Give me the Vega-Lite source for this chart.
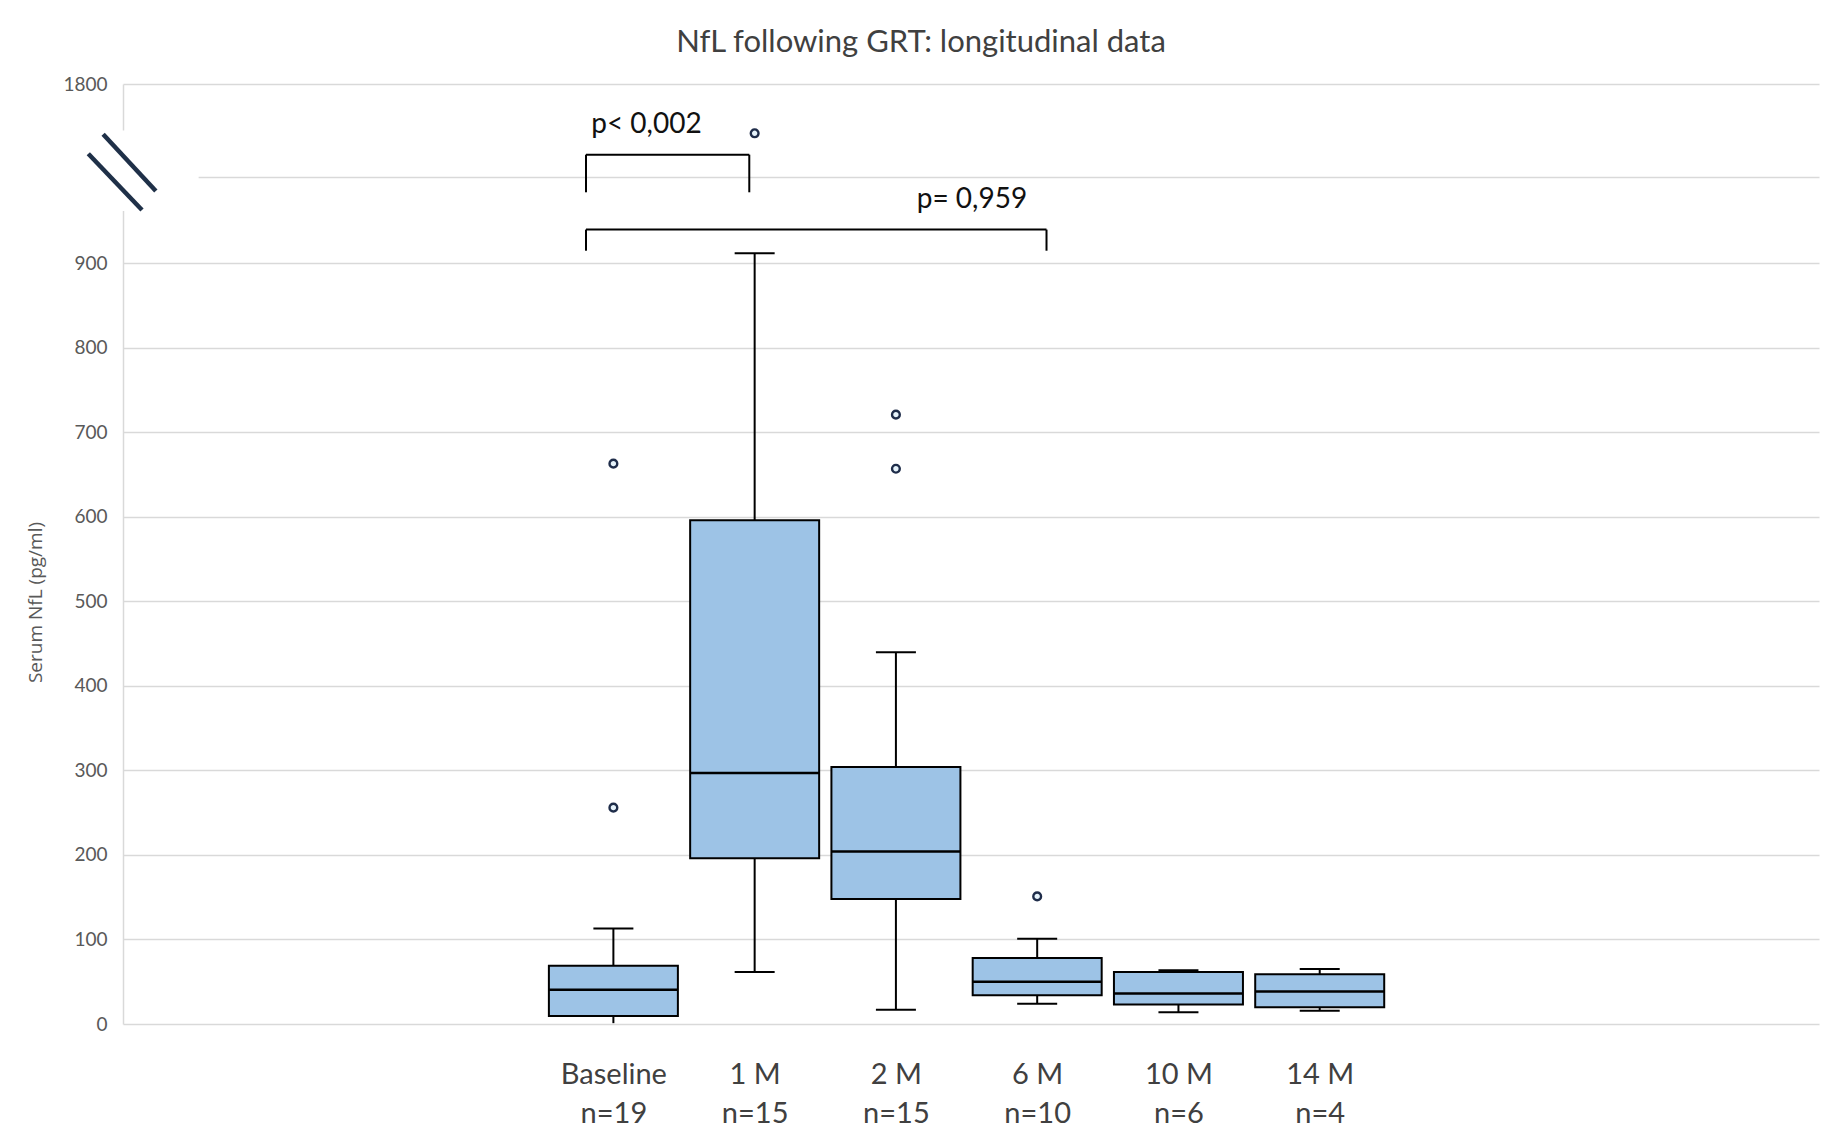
{
  "$schema": "https://vega.github.io/schema/vega-lite/v6.json",
  "width": 1696,
  "height": 940,
  "autosize": {"type": "none"},
  "padding": {"left": 123, "top": 84, "right": 24, "bottom": 106},
  "background": "white",
  "title": {
    "text": "NfL following GRT: longitudinal data",
    "font": "Lato",
    "fontSize": 31,
    "fontWeight": "normal",
    "color": "#404040",
    "anchor": "middle",
    "frame": "group",
    "dx": -50,
    "baseline": "alphabetic",
    "offset": -8
  },
  "config": {"view": {"stroke": null}},
  "datasets": {
    "boxes": [
      {"t": 1, "group": "Baseline", "n": 19, "min": 1, "lo": null, "q1": 9.5, "median": 40.5, "q3": 69, "max": 113},
      {"t": 2, "group": "1 M", "n": 15, "min": 61.5, "lo": 61.5, "q1": 196, "median": 297, "q3": 596, "max": 912},
      {"t": 3, "group": "2 M", "n": 15, "min": 17, "lo": 17, "q1": 148, "median": 204, "q3": 304, "max": 440},
      {"t": 4, "group": "6 M", "n": 10, "min": 24, "lo": 24, "q1": 34, "median": 50, "q3": 78, "max": 101},
      {"t": 5, "group": "10 M", "n": 6, "min": 14, "lo": 14, "q1": 23, "median": 36, "q3": 61.5, "max": 63.5},
      {"t": 6, "group": "14 M", "n": 4, "min": 15.7, "lo": 15.7, "q1": 19.7, "median": 38.6, "q3": 59, "max": 65}
    ],
    "outliers": [
      {"t": 1, "group": "Baseline", "value": 256},
      {"t": 1, "group": "Baseline", "value": 663},
      {"t": 2, "group": "1 M", "value": 1747},
      {"t": 3, "group": "2 M", "value": 721},
      {"t": 3, "group": "2 M", "value": 657},
      {"t": 4, "group": "6 M", "value": 151}
    ],
    "one": [{}]
  },
  "layer": [
    {
      "data": {"name": "boxes"},
      "mark": {"type": "rule", "color": "black", "strokeWidth": 2},
      "encoding": {
        "x": {
          "field": "t",
          "type": "quantitative",
          "scale": {"domain": [-2.436, 9.499], "nice": false, "zero": false},
          "axis": {
            "values": [1, 2, 3, 4, 5, 6],
            "title": null,
            "grid": false,
            "domain": false,
            "ticks": false,
            "labelFont": "Lato",
            "labelFontSize": 29,
            "labelColor": "#404040",
            "labelPadding": 36,
            "labelLineHeight": 39,
            "labelOverlap": false,
            "labelBound": false,
            "labelFlush": false,
            "labelExpr": "[['Baseline','n=19'],['1 M','n=15'],['2 M','n=15'],['6 M','n=10'],['10 M','n=6'],['14 M','n=4']][datum.value-1]"
          }
        },
        "y": {
          "field": "min",
          "type": "quantitative",
          "scale": {"domain": [0, 962, 1700, 1800], "range": [940, 127, 93, 0], "nice": false, "zero": false},
          "axis": {
            "values": [0, 100, 200, 300, 400, 500, 600, 700, 800, 900, 1700, 1800],
            "format": "d",
            "labelExpr": "datum.value == 1700 ? '' : datum.label",
            "title": "Serum NfL (pg/ml)",
            "titleFont": "Open Sans",
            "titleFontSize": 19,
            "titleFontWeight": "normal",
            "titleColor": "#595959",
            "titleX": -88,
            "titleY": 518,
            "titleAlign": "center",
            "titleBaseline": "middle",
            "titleAngle": -90,
            "labelFont": "Lato",
            "labelFontSize": 19,
            "labelColor": "#595959",
            "labelPadding": 16,
            "ticks": false,
            "grid": true,
            "gridColor": "#d9d9d9",
            "gridWidth": 1.5,
            "domain": true,
            "domainColor": "#d9d9d9",
            "domainWidth": 1.5
          }
        },
        "y2": {"field": "max"}
      }
    },
    {
      "data": {"name": "boxes"},
      "mark": {"type": "tick", "orient": "horizontal", "size": 40, "thickness": 2, "color": "black", "opacity": 1},
      "encoding": {
        "x": {"field": "t", "type": "quantitative"},
        "y": {"field": "max", "type": "quantitative"}
      }
    },
    {
      "data": {"name": "boxes"},
      "mark": {"type": "tick", "orient": "horizontal", "size": 40, "thickness": 2, "color": "black", "opacity": 1},
      "encoding": {
        "x": {"field": "t", "type": "quantitative"},
        "y": {"field": "lo", "type": "quantitative"}
      }
    },
    {
      "data": {"name": "boxes"},
      "mark": {"type": "bar", "orient": "vertical", "size": 129, "fill": "#9dc3e6", "stroke": "black", "strokeWidth": 2, "opacity": 1},
      "encoding": {
        "x": {"field": "t", "type": "quantitative"},
        "y": {"field": "q1", "type": "quantitative"},
        "y2": {"field": "q3"}
      }
    },
    {
      "data": {"name": "boxes"},
      "mark": {"type": "tick", "orient": "horizontal", "size": 129, "thickness": 2.5, "color": "black", "opacity": 1},
      "encoding": {
        "x": {"field": "t", "type": "quantitative"},
        "y": {"field": "median", "type": "quantitative"}
      }
    },
    {
      "data": {"name": "outliers"},
      "mark": {"type": "point", "shape": "circle", "size": 60, "filled": true, "fill": "#e6f3fb", "stroke": "#1f2d4a", "strokeWidth": 2.4, "opacity": 1},
      "encoding": {
        "x": {"field": "t", "type": "quantitative"},
        "y": {"field": "value", "type": "quantitative"}
      }
    },
    {
      "data": {"name": "one"},
      "mark": {"type": "rect", "fill": "white"},
      "encoding": {
        "x": {"datum": -2.75, "type": "quantitative"},
        "x2": {"datum": -1.936},
        "y": {"datum": 1750, "type": "quantitative"},
        "y2": {"datum": 962}
      }
    },
    {
      "data": {"name": "one"},
      "mark": {"type": "rule", "color": "#1f3048", "strokeWidth": 4.5},
      "encoding": {
        "x": {"datum": -2.612, "type": "quantitative"},
        "x2": {"datum": -2.239},
        "y": {"datum": 1746, "type": "quantitative"},
        "y2": {"datum": 1396}
      }
    },
    {
      "data": {"name": "one"},
      "mark": {"type": "rule", "color": "#1f3048", "strokeWidth": 4.5},
      "encoding": {
        "x": {"datum": -2.717, "type": "quantitative"},
        "x2": {"datum": -2.337},
        "y": {"datum": 1725, "type": "quantitative"},
        "y2": {"datum": 984}
      }
    },
    {
      "data": {"name": "one"},
      "mark": {"type": "rule", "color": "black", "strokeWidth": 2},
      "encoding": {
        "x": {"datum": 0.806, "type": "quantitative"},
        "x2": {"datum": 1.962},
        "y": {"datum": 1724, "type": "quantitative"}
      }
    },
    {
      "data": {"name": "one"},
      "mark": {"type": "rule", "color": "black", "strokeWidth": 2},
      "encoding": {
        "x": {"datum": 0.806, "type": "quantitative"},
        "y": {"datum": 1724, "type": "quantitative"},
        "y2": {"datum": 1368}
      }
    },
    {
      "data": {"name": "one"},
      "mark": {"type": "rule", "color": "black", "strokeWidth": 2},
      "encoding": {
        "x": {"datum": 1.962, "type": "quantitative"},
        "y": {"datum": 1724, "type": "quantitative"},
        "y2": {"datum": 1368}
      }
    },
    {
      "data": {"name": "one"},
      "mark": {"type": "rule", "color": "black", "strokeWidth": 2},
      "encoding": {
        "x": {"datum": 0.806, "type": "quantitative"},
        "x2": {"datum": 4.066},
        "y": {"datum": 940, "type": "quantitative"}
      }
    },
    {
      "data": {"name": "one"},
      "mark": {"type": "rule", "color": "black", "strokeWidth": 2},
      "encoding": {
        "x": {"datum": 0.806, "type": "quantitative"},
        "y": {"datum": 940, "type": "quantitative"},
        "y2": {"datum": 915}
      }
    },
    {
      "data": {"name": "one"},
      "mark": {"type": "rule", "color": "black", "strokeWidth": 2},
      "encoding": {
        "x": {"datum": 4.066, "type": "quantitative"},
        "y": {"datum": 940, "type": "quantitative"},
        "y2": {"datum": 915}
      }
    },
    {
      "data": {"name": "one"},
      "mark": {"type": "text", "font": "Lato", "fontSize": 28, "color": "#111111", "align": "center", "baseline": "alphabetic"},
      "encoding": {
        "x": {"datum": 1.234, "type": "quantitative"},
        "y": {"datum": 1747.6, "type": "quantitative"},
        "text": {"value": "p< 0,002"}
      }
    },
    {
      "data": {"name": "one"},
      "mark": {"type": "text", "font": "Lato", "fontSize": 28, "color": "#111111", "align": "center", "baseline": "alphabetic"},
      "encoding": {
        "x": {"datum": 3.538, "type": "quantitative"},
        "y": {"datum": 1021, "type": "quantitative"},
        "text": {"value": "p= 0,959"}
      }
    }
  ]
}
